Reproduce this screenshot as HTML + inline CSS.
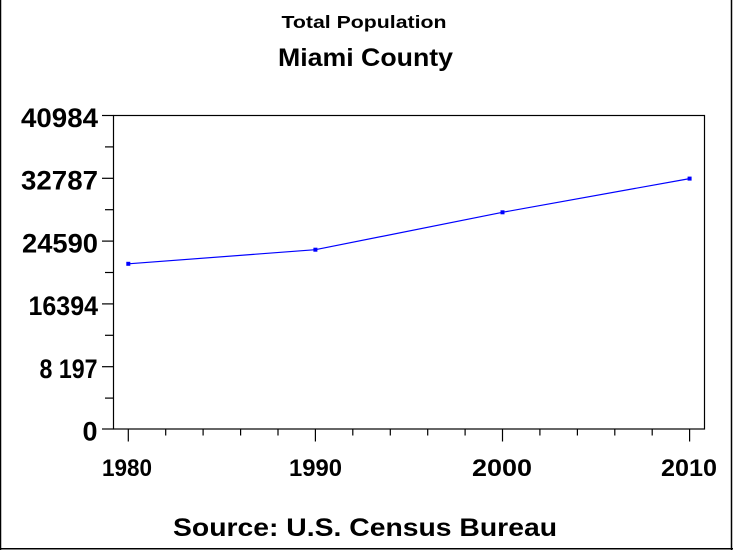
<!DOCTYPE html>
<html><head><meta charset="utf-8"><style>
html,body{margin:0;padding:0;background:#fff;}
svg{display:block;}
text{font-family:"Liberation Sans",Arial,sans-serif;fill:#000;}
</style></head><body>
<svg width="733" height="550" viewBox="0 0 733 550" xmlns="http://www.w3.org/2000/svg">
<rect x="0" y="0" width="733" height="550" fill="#fff"/>
<!-- outer border -->
<line x1="0.5" y1="0" x2="0.5" y2="550" stroke="#000" stroke-width="1.5"/>
<line x1="731.5" y1="0" x2="731.5" y2="550" stroke="#000" stroke-width="1.5"/>
<line x1="0" y1="548.8" x2="733" y2="548.8" stroke="#000" stroke-width="1.5"/>

<!-- titles -->
<text x="281.5" y="28" font-size="17.5" font-weight="bold" textLength="165" lengthAdjust="spacingAndGlyphs">Total Population</text>
<text x="278" y="66" font-size="25" font-weight="bold" textLength="175" lengthAdjust="spacingAndGlyphs">Miami County</text>

<!-- plot frame -->
<rect x="113.5" y="115.5" width="591" height="313.5" fill="none" stroke="#000" stroke-width="1.2"/>

<!-- y ticks -->
<g stroke="#000" stroke-width="1.2">
<line x1="102" y1="115.5" x2="113.5" y2="115.5"/>
<line x1="105" y1="146.9" x2="113.5" y2="146.9"/>
<line x1="102" y1="178.3" x2="113.5" y2="178.3"/>
<line x1="105" y1="209.7" x2="113.5" y2="209.7"/>
<line x1="102" y1="241.1" x2="113.5" y2="241.1"/>
<line x1="105" y1="272.5" x2="113.5" y2="272.5"/>
<line x1="102" y1="303.9" x2="113.5" y2="303.9"/>
<line x1="105" y1="335.3" x2="113.5" y2="335.3"/>
<line x1="102" y1="366.7" x2="113.5" y2="366.7"/>
<line x1="105" y1="398.1" x2="113.5" y2="398.1"/>
<line x1="102" y1="429" x2="113.5" y2="429"/>
</g>

<!-- x ticks -->
<g stroke="#000" stroke-width="1.2">
<line x1="128.3" y1="429" x2="128.3" y2="441.5"/>
<line x1="165.7" y1="429" x2="165.7" y2="435.5"/>
<line x1="203.1" y1="429" x2="203.1" y2="435.5"/>
<line x1="240.6" y1="429" x2="240.6" y2="435.5"/>
<line x1="278" y1="429" x2="278" y2="435.5"/>
<line x1="315.4" y1="429" x2="315.4" y2="441.5"/>
<line x1="352.8" y1="429" x2="352.8" y2="435.5"/>
<line x1="390.3" y1="429" x2="390.3" y2="435.5"/>
<line x1="427.7" y1="429" x2="427.7" y2="435.5"/>
<line x1="465.1" y1="429" x2="465.1" y2="435.5"/>
<line x1="502.5" y1="429" x2="502.5" y2="441.5"/>
<line x1="539.9" y1="429" x2="539.9" y2="435.5"/>
<line x1="577.4" y1="429" x2="577.4" y2="435.5"/>
<line x1="614.8" y1="429" x2="614.8" y2="435.5"/>
<line x1="652.2" y1="429" x2="652.2" y2="435.5"/>
<line x1="689.6" y1="429" x2="689.6" y2="441.5"/>
</g>

<!-- y labels -->
<g font-size="27" font-weight="bold">
<text x="21" y="126.8" textLength="77" lengthAdjust="spacingAndGlyphs">40984</text>
<text x="21" y="189.6" textLength="77" lengthAdjust="spacingAndGlyphs">32787</text>
<text x="22" y="252.4" textLength="76" lengthAdjust="spacingAndGlyphs">24590</text>
<text x="28.5" y="315.2" textLength="69.5" lengthAdjust="spacingAndGlyphs">16394</text>
<text x="39.5" y="378" textLength="58" lengthAdjust="spacingAndGlyphs">8 197</text>
<text x="82.5" y="440.5" textLength="15" lengthAdjust="spacingAndGlyphs">0</text>
</g>

<!-- x labels -->
<g font-size="24.5" font-weight="bold">
<text x="102" y="476" textLength="50" lengthAdjust="spacingAndGlyphs">1980</text>
<text x="289" y="476" textLength="53" lengthAdjust="spacingAndGlyphs">1990</text>
<text x="472" y="476" textLength="60" lengthAdjust="spacingAndGlyphs">2000</text>
<text x="661" y="476" textLength="56" lengthAdjust="spacingAndGlyphs">2010</text>
</g>

<!-- series -->
<polyline points="128.3,263.8 315.4,249.7 502.5,212.3 689.6,178.6" fill="none" stroke="#0000ff" stroke-width="1.2"/>
<g fill="#0000ff">
<rect x="126.3" y="261.8" width="4" height="4"/>
<rect x="313.4" y="247.7" width="4" height="4"/>
<rect x="500.5" y="210.3" width="4" height="4"/>
<rect x="687.6" y="176.6" width="4" height="4"/>
</g>

<!-- footnote -->
<text x="173" y="536" font-size="25" font-weight="bold" textLength="384" lengthAdjust="spacingAndGlyphs">Source: U.S. Census Bureau</text>
</svg>
</body></html>
